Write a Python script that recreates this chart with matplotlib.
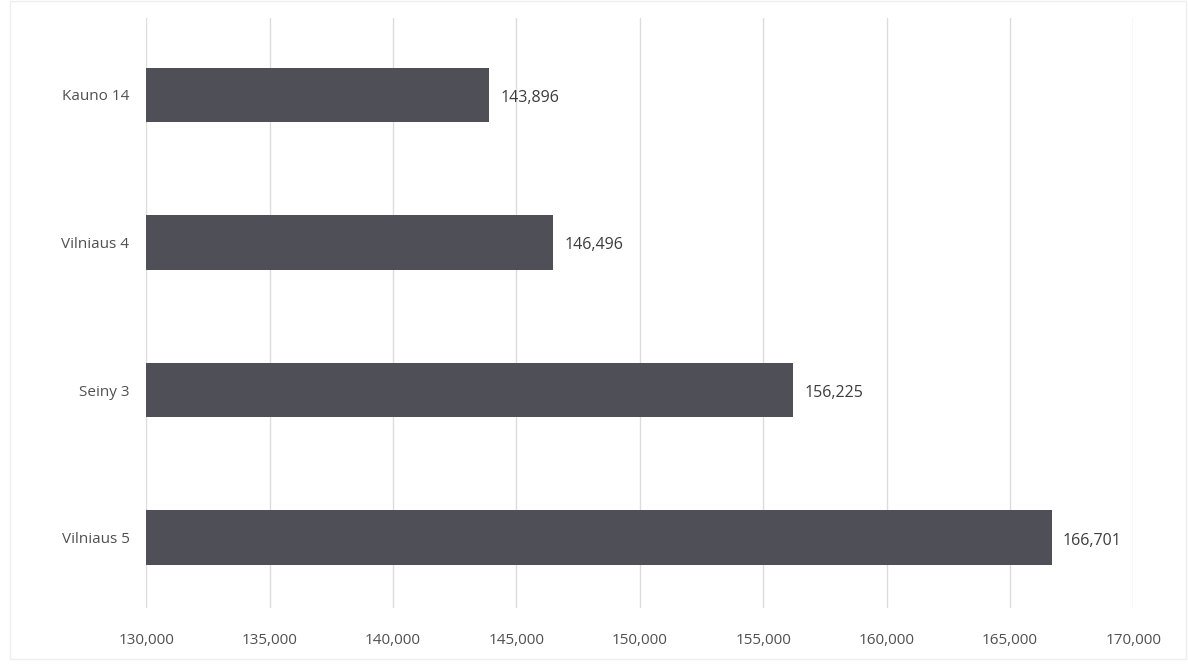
import matplotlib
matplotlib.use('Agg')
import matplotlib.pyplot as plt
from matplotlib.ticker import FuncFormatter

categories = ['Kauno 14', 'Vilniaus 4', 'Seiny 3', 'Vilniaus 5']
values = [143896, 146496, 156225, 166701]
xticks = [130000, 135000, 140000, 145000, 150000, 155000, 160000, 165000, 170000]

plt.rcParams['font.family'] = ['Open Sans', 'DejaVu Sans']

fig = plt.figure(figsize=(11.88, 6.64), dpi=100)
ax = fig.add_axes([0.123, 0.085, 0.831, 0.888])

ypos = list(range(len(categories)))
ax.barh(ypos, [v - xticks[0] for v in values], left=xticks[0], height=0.37,
        color='#4f4f57', zorder=3)

for y, v in zip(ypos, values):
    ax.text(v + 450, y + 0.02, '{:,}'.format(v), va='center', ha='left',
            fontsize=11.5, color='#3c3c3c')

ax.set_xlim(xticks[0], xticks[-1])
ax.set_ylim(len(categories) - 1 + 0.474, -0.521)
ax.set_xticks(xticks)
ax.xaxis.set_major_formatter(FuncFormatter(lambda x, p: '{:,.0f}'.format(x)))
ax.set_yticks(ypos)
ax.set_yticklabels(categories)
ax.tick_params(axis='both', length=0, labelsize=11, colors='#505050')
ax.tick_params(axis='x', pad=18)
ax.tick_params(axis='y', pad=12)

ax.grid(axis='x', color='#dcdcdc', linewidth=1, zorder=0)
for s in ax.spines.values():
    s.set_visible(False)

# faint chart border
fig.patches.append(plt.Rectangle((0.008, 0.008), 0.99, 0.99, transform=fig.transFigure,
                                 fill=False, edgecolor='#eeeeee', linewidth=1))

fig.savefig('out.png', dpi=100)
